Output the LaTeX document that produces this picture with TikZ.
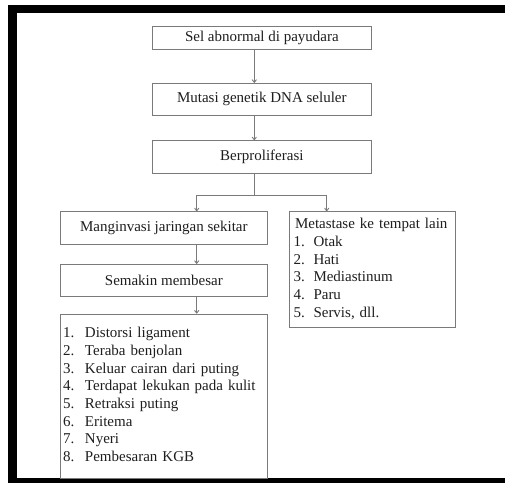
\documentclass[tikz,border=0pt]{standalone}
\usepackage{fontspec}
\setmainfont{Liberation Serif}
\usetikzlibrary{arrows.meta}
\definecolor{edge}{HTML}{7A7A7A}
\definecolor{ink}{HTML}{1E1E1E}
\tikzset{
  box/.style={draw=edge, line width=0.9pt, rectangle, inner sep=0pt, text=ink,
    font=\fontsize{15}{17.7}\selectfont},
  arr/.style={draw=edge, line width=0.9pt, -{To[length=3.5pt,width=5pt]}},
  ln/.style={draw=edge, line width=0.9pt}
}
\begin{document}
\begin{tikzpicture}[x=1pt,y=-1pt]
\useasboundingbox (0,0) rectangle (505,483);
% frame
\fill[black] (8,5) rectangle (505,13.3);
\fill[black] (8,5) rectangle (16.7,483);
\fill[black] (8,477.7) rectangle (505,483);
% boxes
\node[box, minimum width=218.3pt, minimum height=23.3pt] (b1) at (261.85,37.65) {Sel abnormal di payudara};
\node[box, minimum width=218.3pt, minimum height=31.7pt] (b2) at (261.85,99.15) {Mutasi genetik DNA seluler};
\node[box, minimum width=218.3pt, minimum height=32.7pt] (b3) at (261.85,157) {Berproliferasi};
\node[box, minimum width=207.7pt, minimum height=32.3pt] (b4) at (163.85,227.85) {Manginvasi jaringan sekitar};
\node[box, minimum width=207.7pt, minimum height=32.4pt] (b5) at (163.85,280.5) {Semakin membesar};
\node[box, minimum width=207.7pt, minimum height=164pt, text width=197.7pt, align=left] (b6) at (163.85,396)
  {\hspace*{-2pt}\begin{tabular}{@{}p{22pt}@{}l@{}}
  1. & Distorsi ligament\\
  2. & Teraba benjolan\\
  3. & Keluar cairan dari puting\\
  4. & Terdapat lekukan pada kulit\\
  5. & Retraksi puting\\
  6. & Eritema\\
  7. & Nyeri\\
  8. & Pembesaran KGB
  \end{tabular}};
\node[box, minimum width=166.4pt, minimum height=115.6pt, text width=158pt, align=left] (m) at (372.5,269.5)
  {\begin{tabular}{@{}p{20pt}@{}l@{}}
  \multicolumn{2}{@{}l@{}}{\hspace*{1.5pt}Metastase ke tempat lain}\\
  1. & Otak\\
  2. & Hati\\
  3. & Mediastinum\\
  4. & Paru\\
  5. & Servis, dll.
  \end{tabular}};
% connectors
\coordinate (ax) at (254.3,0);
\coordinate (lx) at (196.7,0);
\coordinate (rx) at (326.7,0);
\coordinate (jy) at (0,195);
\draw[arr] (b1.south -| ax) -- (b2.north -| ax);
\draw[arr] (b2.south -| ax) -- (b3.north -| ax);
\draw[ln] (b3.south -| ax) -- (ax |- jy);
\draw[ln] (lx |- jy) -- (rx |- jy);
\draw[arr] (lx |- jy) -- (b4.north -| lx);
\draw[arr] (rx |- jy) -- (m.north -| rx);
\draw[arr] (b4.south -| lx) -- (b5.north -| lx);
\draw[arr] (b5.south -| lx) -- (b6.north -| lx);
\end{tikzpicture}
\end{document}
